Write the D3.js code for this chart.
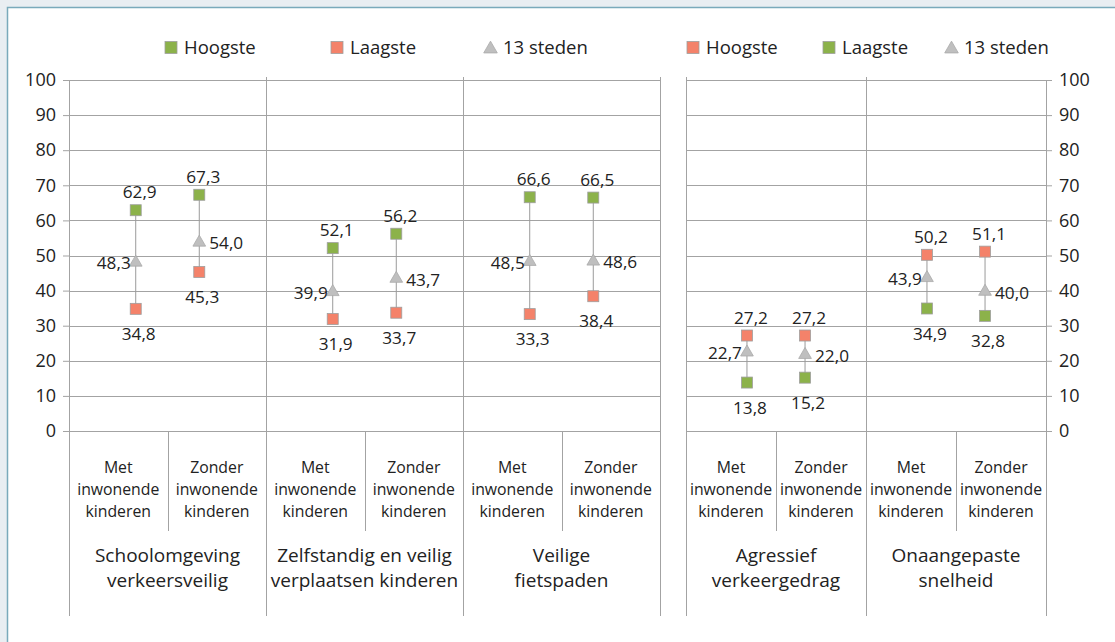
<!DOCTYPE html>
<html>
<head>
<meta charset="utf-8">
<script src="https://cdn.jsdelivr.net/npm/d3@7"></script>
<style>
  html, body { margin: 0; padding: 0; background: #e9eef2; }
  svg { display: block; font-family: "Open Sans", "Noto Sans", sans-serif; }
</style>
</head>
<body>
<svg id="chart" width="1115" height="642"></svg>
<script>
// categories
const subLabels = [["Met", "inwonende", "kinderen"], ["Zonder", "inwonende", "kinderen"]];
const leftGroups = [["Schoolomgeving", "verkeersveilig"], ["Zelfstandig en veilig", "verplaatsen kinderen"], ["Veilige", "fietspaden"]];
const rightGroups = [["Agressief", "verkeergedrag"], ["Onaangepaste", "snelheid"]];

// values (left panel: green = hoogste, right panel: orange = hoogste)
const leftHoogste = [62.9, 67.3, 52.1, 56.2, 66.6, 66.5];
const leftLaagste = [34.8, 45.3, 31.9, 33.7, 33.3, 38.4];
const leftSteden  = [48.3, 54.0, 39.9, 43.7, 48.5, 48.6];
const rightHoogste = [27.2, 27.2, 50.2, 51.1];
const rightLaagste = [13.8, 15.2, 34.9, 32.8];
const rightSteden  = [22.7, 22.0, 43.9, 40.0];

const yTicks = [0, 10, 20, 30, 40, 50, 60, 70, 80, 90, 100];

const GREEN = "#8cb24a", ORANGE = "#f4826a", GREY = "#bfbfbf";
const LINE = "#a3a3a3", TEXT = "#222";

const svg = d3.select("#chart");
svg.append("rect")
  .attr("x", 7.5).attr("y", 7.5).attr("width", 1120).attr("height", 650)
  .attr("fill", "#fff").attr("stroke", "#7aaabb").attr("stroke-width", 1.5);

const y = d3.scaleLinear([0, 100], [431, 80]);
const fmt = v => d3.format(".1f")(v).replace(".", ",");

function drawPanel({x0, x1, groups, hoog, laag, steden, hoogColor, laagColor, axisSide, legend}) {
  const g = svg.append("g");
  const nCat = groups.length * 2;
  const gx = d3.scaleBand(d3.range(groups.length), [x0, x1]);
  const cx = d3.scaleBand(d3.range(nCat), [x0, x1]);
  const mx = i => d3.scalePoint(["Met", "Zonder"], [gx(Math.floor(i / 2)), gx(Math.floor(i / 2)) + gx.bandwidth()])
    .padding(1.05)(i % 2 ? "Zonder" : "Met");

  // gridlines
  g.append("g").selectAll("line").data(yTicks).join("line")
    .attr("x1", x0).attr("x2", x1)
    .attr("y1", d => Math.round(y(d)) + 0.5).attr("y2", d => Math.round(y(d)) + 0.5)
    .attr("stroke", LINE);

  // value axis
  const axis = axisSide === "left" ? d3.axisLeft(y) : d3.axisRight(y);
  g.append("g")
    .attr("transform", `translate(${axisSide === "left" ? x0 : x1},0)`)
    .call(axis.tickValues(yTicks).tickSize(6).tickPadding(7))
    .call(a => a.select(".domain").remove())
    .call(a => a.selectAll(".tick line").attr("stroke", LINE))
    .call(a => a.selectAll(".tick text").attr("fill", TEXT).attr("font-size", 18)
      .attr("font-family", "'Open Sans', sans-serif"));

  // frame verticals & category dividers
  const majors = d3.range(groups.length + 1).map(i => i < groups.length ? gx(i) : x1);
  g.append("g").selectAll("line").data(majors).join("line")
    .attr("x1", d => Math.round(d) + 0.5).attr("x2", d => Math.round(d) + 0.5)
    .attr("y1", (d, i) => (axisSide === "left" && i === 0) || (axisSide === "right" && i === majors.length - 1) ? 80 : 77)
    .attr("y2", 616)
    .attr("stroke", LINE);
  g.append("g").selectAll("line").data(d3.range(groups.length)).join("line")
    .attr("x1", i => Math.round(gx(i) + gx.bandwidth() / 2) + 0.5)
    .attr("x2", i => Math.round(gx(i) + gx.bandwidth() / 2) + 0.5)
    .attr("y1", 431).attr("y2", 531)
    .attr("stroke", LINE);

  // category labels
  g.append("g").selectAll("text").data(d3.range(nCat)).join("text")
    .attr("x", i => cx(i) + cx.bandwidth() / 2)
    .attr("y", 473)
    .attr("text-anchor", "middle").attr("font-size", 15.8).attr("fill", TEXT)
    .selectAll("tspan").data(i => subLabels[i % 2]).join("tspan")
      .attr("x", function () { return this.parentNode.getAttribute("x"); })
      .attr("dy", (d, j) => j ? 22 : 0)
      .text(d => d);
  g.append("g").selectAll("text").data(groups).join("text")
    .attr("x", (d, i) => gx(i) + gx.bandwidth() / 2)
    .attr("y", 562)
    .attr("text-anchor", "middle").attr("font-size", 19).attr("fill", TEXT)
    .selectAll("tspan").data(d => d).join("tspan")
      .attr("x", function () { return this.parentNode.getAttribute("x"); })
      .attr("dy", (d, j) => j ? 25 : 0)
      .text(d => d);

  // high-low lines
  g.append("g").selectAll("line").data(d3.range(nCat)).join("line")
    .attr("x1", i => mx(i)).attr("x2", i => mx(i))
    .attr("y1", i => y(hoog[i])).attr("y2", i => y(laag[i]))
    .attr("stroke", "#9a9a9a").attr("stroke-width", 1);

  // markers
  const sq = 11;
  const marks = g.append("g");
  marks.selectAll(".hoog").data(hoog).join("rect")
    .attr("x", (d, i) => mx(i) - sq / 2).attr("y", d => y(d) - sq / 2)
    .attr("width", sq).attr("height", sq)
    .attr("fill", hoogColor).attr("stroke", "#9e9e9e").attr("stroke-width", 0.8);
  marks.selectAll(".laag").data(laag).join("rect")
    .attr("x", (d, i) => mx(i) - sq / 2).attr("y", d => y(d) - sq / 2)
    .attr("width", sq).attr("height", sq)
    .attr("fill", laagColor).attr("stroke", "#9e9e9e").attr("stroke-width", 0.8);
  const tri = d3.symbol(d3.symbolTriangle, 70);
  marks.selectAll("path").data(steden).join("path")
    .attr("transform", (d, i) => `translate(${mx(i)},${y(d) + 1})`)
    .attr("d", tri)
    .attr("fill", GREY).attr("stroke", "#aaa").attr("stroke-width", 0.8);

  // data labels
  const upper = hoog.map((h, i) => Math.max(h, laag[i]));
  const lower = hoog.map((h, i) => Math.min(h, laag[i]));
  const labels = g.append("g").attr("font-size", 17.2).attr("fill", TEXT);
  labels.selectAll(".up").data(upper).join("text")
    .attr("x", (d, i) => mx(i) + 4).attr("y", d => y(d) - 12)
    .attr("text-anchor", "middle").text(fmt);
  labels.selectAll(".low").data(lower).join("text")
    .attr("x", (d, i) => mx(i) + 3).attr("y", d => y(d) + 31)
    .attr("text-anchor", "middle").text(fmt);
  labels.selectAll(".mid").data(steden).join("text")
    .attr("x", (d, i) => i % 2 ? mx(i) + 10 : mx(i) - 5)
    .attr("y", d => y(d) + 8)
    .attr("text-anchor", (d, i) => i % 2 ? "start" : "end").text(fmt);

  // legend
  const lg = g.append("g").attr("font-size", 18.5).attr("fill", TEXT);
  legend.forEach(([lx, name, kind]) => {
    if (kind === "tri") {
      lg.append("path").attr("transform", `translate(${lx + 6.5},${49})`)
        .attr("d", d3.symbol(d3.symbolTriangle, 80)).attr("fill", GREY).attr("stroke", "#aaa").attr("stroke-width", 0.8);
    } else {
      lg.append("rect").attr("x", lx).attr("y", 41.5).attr("width", 12).attr("height", 12)
        .attr("fill", kind).attr("stroke", "#9e9e9e").attr("stroke-width", 0.8);
    }
    lg.append("text").attr("x", lx + 19).attr("y", 54).text(name);
  });
}

drawPanel({
  x0: 69, x1: 660, groups: leftGroups,
  hoog: leftHoogste, laag: leftLaagste, steden: leftSteden,
  hoogColor: GREEN, laagColor: ORANGE, axisSide: "left",
  legend: [[165, "Hoogste", GREEN], [331, "Laagste", ORANGE], [484, "13 steden", "tri"]]
});
drawPanel({
  x0: 686, x1: 1046, groups: rightGroups,
  hoog: rightHoogste, laag: rightLaagste, steden: rightSteden,
  hoogColor: ORANGE, laagColor: GREEN, axisSide: "right",
  legend: [[687, "Hoogste", ORANGE], [823, "Laagste", GREEN], [945, "13 steden", "tri"]]
});
</script>
</body>
</html>
